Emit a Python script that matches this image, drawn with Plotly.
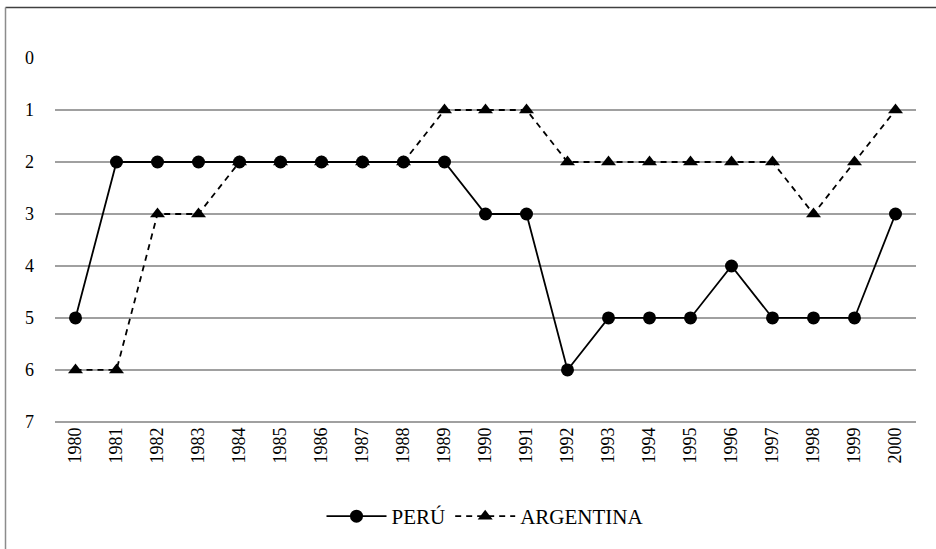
import plotly.graph_objects as go

years = [str(y) for y in range(1980, 2001)]
peru = [5, 2, 2, 2, 2, 2, 2, 2, 2, 2, 3, 3, 6, 5, 5, 5, 4, 5, 5, 5, 3]
argentina = [6, 6, 3, 3, 2, 2, 2, 2, 2, 1, 1, 1, 2, 2, 2, 2, 2, 2, 3, 2, 1]
y_ticks = [0, 1, 2, 3, 4, 5, 6, 7]

font_fam = "Liberation Serif"

fig = go.Figure()
fig.add_trace(go.Scatter(
    x=years, y=peru, name="PERÚ", mode="lines+markers",
    line=dict(color="black", width=1.8),
    marker=dict(symbol="circle", size=13, color="black"),
))
fig.add_trace(go.Scatter(
    x=years, y=argentina, name="ARGENTINA", mode="lines+markers",
    line=dict(color="black", width=1.8, dash="6px,5px"),
    marker=dict(symbol="triangle-up", size=13, color="black"),
))

L, R, T, B = 55, 20, 58, 123
W, H = 936, 549
pw = W - L - R
ph = H - T - B

def px_x(p):
    return (p - L) / pw

def px_y(p):
    return (H - B - p) / ph

fig.update_layout(
    width=W, height=H,
    margin=dict(l=L, r=R, t=T, b=B),
    paper_bgcolor="white", plot_bgcolor="white",
    font=dict(family=font_fam, size=18, color="black"),
    showlegend=True,
    legend=dict(orientation="h", x=0.5, xanchor="center", y=-0.20, yanchor="top",
                font=dict(family=font_fam, size=21), itemwidth=60, traceorder="normal"),
    xaxis=dict(type="category", range=[-0.5, 20.5], tickangle=-90,
               showgrid=False, showline=False, ticks="",
               tickfont=dict(family=font_fam, size=18)),
    yaxis=dict(range=[7.02, 0], tickvals=y_ticks, showgrid=True, gridcolor="#a0a0a0",
               gridwidth=1.5, zeroline=False, showline=False, ticks="",
               tickfont=dict(family=font_fam, size=18), ticklabelstandoff=20),
    shapes=[
        dict(type="line", xref="paper", yref="paper",
             x0=px_x(5.5), x1=px_x(940), y0=px_y(7), y1=px_y(7),
             line=dict(color="#404040", width=1.5), layer="below"),
        dict(type="line", xref="paper", yref="paper",
             x0=px_x(5.5), x1=px_x(5.5), y0=px_y(7), y1=px_y(560),
             line=dict(color="#8c8c8c", width=1.5), layer="below"),
    ],
)

fig.write_html(
    "out.html",
    config={"displayModeBar": False, "responsive": False},
    default_width="936px", default_height="549px",
    post_script="document.body.style.margin='0';document.body.style.padding='0';document.body.style.overflow='hidden';",
)
